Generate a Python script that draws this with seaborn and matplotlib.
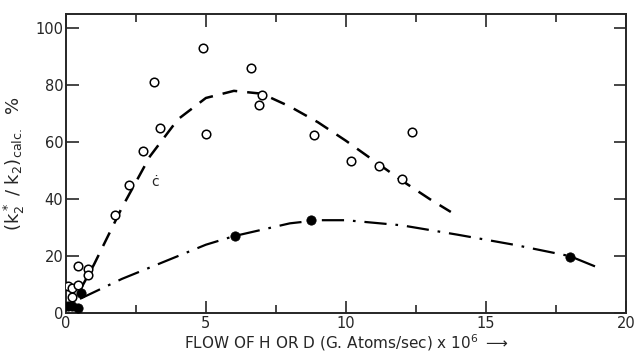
import numpy as np
import matplotlib
matplotlib.use("Agg")
import matplotlib.pyplot as plt
import seaborn as sns
import pandas as pd

# open circles (H atoms)
open_x = [4.9, 3.15, 6.6, 7.0, 6.9, 5.0, 3.35, 2.75, 2.25, 1.75, 8.85, 10.2, 11.2, 12.0, 12.35,
          0.42, 0.8, 0.8, 0.06, 0.2, 0.43, 0.2]
open_y = [93, 81, 86, 76.5, 73, 63, 65, 57, 45, 34.5, 62.5, 53.5, 51.5, 47, 63.5,
          16.5, 15.5, 13.5, 9.5, 8.8, 9.8, 5.6]

# filled circles (D atoms)
fill_x = [0.55, 0.07, 0.2, 0.42, 6.05, 8.75, 18.0]
fill_y = [7.2, 2.5, 2.5, 1.8, 27, 32.5, 19.8]

# hand-drawn curves
dash_x = [0.5, 1.0, 2.0, 3.0, 4.0, 5.0, 6.0, 7.0, 8.0, 9.0, 10.0, 11.0, 12.0, 13.0, 13.75]
dash_y = [8, 17, 37, 55, 68, 75.5, 78, 77, 72.5, 67, 60.5, 53.5, 46.5, 40, 35.5]
dd_x = [0.5, 2.0, 3.0, 5.0, 6.0, 8.0, 9.0, 10.0, 12.0, 14.0, 16.0, 18.0, 19.0]
dd_y = [5.0, 12.0, 16.0, 24.0, 27.0, 31.5, 32.6, 32.6, 30.8, 27.5, 24.0, 20.0, 16.0]

sns.set_style("ticks")
plt.rcParams["font.family"] = ["DejaVu Sans"]

fig = plt.figure(figsize=(6.34, 3.57), dpi=100)
ax = fig.add_axes([0.104, 0.123, 0.883, 0.838])

sns.lineplot(x=dash_x, y=dash_y, ax=ax, color="black", lw=1.8, sort=False)
ax.lines[-1].set_dashes([6, 4])
sns.lineplot(x=dd_x, y=dd_y, ax=ax, color="black", lw=1.6, sort=False)
ax.lines[-1].set_dashes([10, 4, 1.2, 4])

sns.scatterplot(x=open_x, y=open_y, ax=ax, s=38, facecolor="white",
                edgecolor="black", linewidth=1.1, zorder=3)
sns.scatterplot(x=fill_x, y=fill_y, ax=ax, s=45, color="black",
                edgecolor="black", zorder=3)
ax.text(3.2, 46, "ċ", fontsize=10, ha="center", va="center")

ax.set_xlim(0, 20)
ax.set_ylim(0, 105)
ax.set_xticks([0, 5, 10, 15, 20])
ax.set_xticks(np.arange(0, 20, 2.5), minor=True)
ax.set_yticks([0, 20, 40, 60, 80, 100])
ax.set_yticklabels(["0", "20", "40", "60", "80", "100"])
ax.tick_params(axis="both", which="major", direction="in", length=9, width=1.2,
               top=True, right=True, labelsize=10.5, pad=2)
ax.tick_params(axis="x", which="minor", direction="in", length=6, width=1.2, top=True)
for s in ax.spines.values():
    s.set_linewidth(1.4)

ax.set_xlabel(r"FLOW OF H OR D (G. Atoms/sec) x 10$^{6}$ $\longrightarrow$", fontsize=11, labelpad=1)
ax.set_ylabel(r"(k$_2^*$ / k$_2$)$_{\rm calc.}$  %", fontsize=13, labelpad=6)

fig.savefig("out.png", dpi=100)
